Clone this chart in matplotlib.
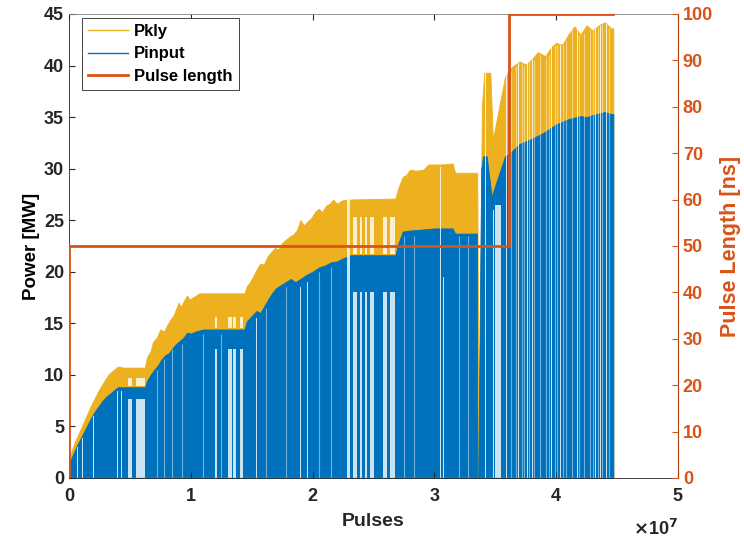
import matplotlib
matplotlib.use('Agg')
import matplotlib.pyplot as plt
from matplotlib.lines import Line2D

plt.rcParams['font.family'] = ['Liberation Sans', 'DejaVu Sans']
plt.rcParams['font.weight'] = 'bold'

# pulses in units of 1e7, power in MW (upper envelope)
pkly_x = [0.00, 0.03, 0.06, 0.09, 0.12, 0.15, 0.18, 0.21, 0.24, 0.27, 0.30, 0.33, 0.36, 0.40,
          0.45, 0.623, 0.64, 0.67, 0.69, 0.72, 0.75, 0.78, 0.81, 0.83, 0.86, 0.88, 0.90, 0.92,
          0.94, 0.97, 0.99, 1.03, 1.07, 1.44, 1.46, 1.48, 1.51, 1.54, 1.57, 1.60, 1.63, 1.66,
          1.69, 1.72, 1.75, 1.78, 1.81, 1.84, 1.87, 1.90, 1.93, 1.96, 1.99, 2.02, 2.05, 2.08,
          2.11, 2.14, 2.17, 2.20, 2.24, 2.28, 2.68, 2.70, 2.74, 2.77, 2.80, 2.85, 2.91, 2.95,
          3.05, 3.15, 3.17, 3.35, 3.352, 3.365, 3.39, 3.41, 3.46, 3.48, 3.58, 3.61, 3.64, 3.70,
          3.75, 3.80, 3.85, 3.91, 3.96, 4.00, 4.05, 4.10, 4.15, 4.20, 4.25, 4.30, 4.35, 4.40,
          4.45, 4.47]
pkly_top = [1.8, 2.9, 3.8, 4.6, 5.4, 6.2, 7.0, 7.7, 8.4, 9.0, 9.6, 10.1, 10.4, 10.8,
            10.7, 10.7, 11.7, 12.3, 13.2, 13.6, 14.4, 14.2, 14.9, 15.3, 15.8, 16.4, 17.0, 16.6,
            17.1, 17.7, 17.3, 17.6, 17.9, 17.9, 18.6, 18.9, 19.5, 20.2, 20.8, 20.7, 21.5, 21.9,
            22.3, 22.2, 22.8, 23.1, 23.4, 23.6, 24.0, 25.0, 24.5, 24.9, 25.2, 25.8, 26.1, 25.8,
            26.4, 26.6, 27.0, 26.6, 26.9, 27.0, 27.1, 28.0, 29.2, 29.4, 29.9, 29.8, 29.9, 30.4,
            30.4, 30.5, 29.6, 29.6, 29.6, 0.0, 36.0, 39.3, 39.3, 32.8, 38.9, 39.5, 39.9, 40.4,
            40.1, 40.6, 41.3, 40.9, 41.8, 42.2, 42.0, 43.0, 43.8, 43.0, 43.9, 43.4, 43.9, 44.2,
            43.6, 43.6]
pin_x = [0.00, 0.03, 0.06, 0.09, 0.12, 0.15, 0.18, 0.21, 0.24, 0.27, 0.30, 0.33, 0.36, 0.40,
         0.623, 0.64, 0.67, 0.70, 0.73, 0.76, 0.79, 0.82, 0.85, 0.88, 0.91, 0.94, 0.97, 1.00,
         1.04, 1.10, 1.44, 1.46, 1.50, 1.54, 1.57, 1.62, 1.66, 1.70, 1.74, 1.78, 1.82, 1.86,
         1.90, 1.95, 2.00, 2.05, 2.10, 2.15, 2.20, 2.25, 2.31, 2.68, 2.70, 2.74, 2.80, 2.90,
         3.00, 3.05, 3.15, 3.17, 3.35, 3.352, 3.36, 3.385, 3.40, 3.43, 3.47, 3.58, 3.62, 3.70,
         3.80, 3.90, 4.00, 4.10, 4.20, 4.25, 4.30, 4.40, 4.45, 4.47]
pin_top = [1.3, 2.2, 3.0, 3.7, 4.4, 5.1, 5.8, 6.4, 6.9, 7.4, 7.8, 8.1, 8.4, 8.8,
           8.8, 9.4, 10.0, 10.5, 10.9, 11.5, 11.9, 12.1, 12.6, 13.0, 13.3, 13.6, 14.1, 14.0,
           14.2, 14.4, 14.4, 15.2, 15.7, 16.2, 16.0, 17.0, 17.8, 18.4, 18.7, 19.0, 19.3, 19.0,
           19.3, 19.7, 20.0, 20.4, 20.6, 20.9, 21.0, 21.3, 21.6, 21.6, 22.6, 23.9, 24.0, 24.1,
           24.2, 24.2, 24.2, 23.7, 23.7, 0.0, 0.0, 30.0, 31.2, 31.2, 27.3, 31.2, 31.5, 32.4,
           32.9, 33.5, 34.3, 34.8, 35.1, 35.0, 35.2, 35.5, 35.3, 35.3]

# dropouts: (start, end, low, high) in the same units
gaps = [
    (0.065, 0.072, 0, 3.0), (0.105, 0.112, 0, 3.9), (0.195, 0.202, 0, 6.0),
    (0.395, 0.402, 0, 8.4), (0.425, 0.432, 0, 8.4),
    (0.487, 0.515, 0, 7.7), (0.487, 0.515, 8.9, 9.7),
    (0.550, 0.623, 0, 7.7), (0.550, 0.623, 8.9, 9.7),
    (1.015, 1.022, 0, 13.5),
    (1.195, 1.215, 0, 12.5), (1.195, 1.215, 14.5, 15.6),
    (1.305, 1.338, 0, 12.5), (1.305, 1.338, 14.5, 15.6),
    (1.347, 1.371, 0, 12.5), (1.347, 1.371, 14.5, 15.6),
    (1.404, 1.429, 0, 12.5), (1.404, 1.429, 14.5, 15.6),
    (1.535, 1.542, 0, 15.5), (1.705, 1.712, 0, 17.5),
    (1.895, 1.902, 0, 18.5), (1.955, 1.962, 0, 19.0),
    (2.280, 2.310, 0, 27.2),
    (2.334, 2.362, 0, 18.0), (2.334, 2.362, 21.7, 25.3),
    (2.389, 2.403, 0, 18.0), (2.389, 2.403, 21.7, 25.3),
    (2.430, 2.444, 0, 18.0), (2.430, 2.444, 21.7, 25.3),
    (2.471, 2.504, 0, 18.0), (2.471, 2.504, 21.7, 25.3),
    (2.581, 2.613, 0, 18.0), (2.581, 2.613, 21.7, 25.3),
    (2.635, 2.677, 0, 18.0), (2.635, 2.677, 21.7, 25.3),
    (2.920, 2.927, 0, 29.7), (3.050, 3.056, 0, 30.2),
    (3.070, 3.077, 0, 19.5), (3.117, 3.124, 0, 19.5),
    (3.415, 3.428, 0, 39.5), (3.484, 3.490, 0, 26.0), (3.500, 3.550, 0, 26.5),
    (3.590, 3.597, 0, 39.5), (3.650, 3.656, 0, 40.0), (3.690, 3.696, 0, 40.3),
    (3.760, 3.766, 0, 40.3), (3.800, 3.806, 0, 40.5), (3.840, 3.846, 0, 41.0),
    (3.890, 3.896, 0, 40.8), (3.960, 3.966, 0, 41.8), (4.030, 4.036, 0, 42.0),
    (4.110, 4.116, 0, 43.0), (4.170, 4.176, 0, 43.5), (4.210, 4.216, 0, 43.0),
    (4.250, 4.256, 0, 43.8), (4.320, 4.327, 0, 43.5), (4.360, 4.366, 0, 43.8),
    (4.410, 4.416, 0, 44.0), (4.440, 4.446, 0, 43.5),
]

# fainter partial dropouts (x position, top in MW)
faint_x = [0.72, 0.78, 0.85, 0.93, 1.10, 1.25, 1.62, 1.78, 2.05, 2.15, 2.75, 2.83, 3.20,
           3.28, 3.63, 3.67, 3.72, 3.74, 3.78, 3.82, 3.87, 3.92, 3.94, 3.99, 4.01, 4.06,
           4.08, 4.13, 4.19, 4.23, 4.28, 4.30, 4.34, 4.38, 4.43]
faint_top = [10.5, 11.5, 12.5, 13.0, 14.0, 14.0, 16.5, 18.5, 20.0, 20.5, 23.5, 23.5, 23.5,
             23.5, 39.5, 40.0, 40.2, 40.0, 40.3, 40.5, 41.0, 40.8, 41.0, 42.0, 42.0, 42.0,
             42.5, 43.5, 43.0, 43.2, 43.5, 43.4, 43.6, 44.0, 43.6]

pulse_x = [0, 0, 3.616, 3.616, 4.47]
pulse_len = [0, 50, 50, 100, 100]

c_kly = '#EDB120'
c_in = '#0072BD'
c_pl = '#D95319'
c_ax = '#262626'

fig = plt.figure(figsize=(7.44, 5.37), dpi=100)
ax = fig.add_axes([0.0927, 0.110, 0.8185, 0.864])

ax.fill_between(pkly_x, 0, pkly_top, color=c_kly, lw=0.6, edgecolor=c_kly)
ax.fill_between(pin_x, 0, pin_top, color=c_in, lw=0.6, edgecolor=c_in)
for g in gaps:
    ax.bar(g[0], g[3] - g[2], width=g[1] - g[0], bottom=g[2], align='edge',
           color='white', alpha=0.8, lw=0)
ax.vlines(faint_x, 0, faint_top, colors='white', alpha=0.45, lw=0.8)
ax.plot([0, 4.47], [0, 0], color='#4DA6D9', lw=1)

ax.set_xlim(0, 5)
ax.set_ylim(0, 45)
ax.set_xticks(range(6))
ax.set_yticks(range(0, 46, 5))
ax.tick_params(direction='in', length=4, labelsize=13, colors=c_ax, top=True)
ax.tick_params(axis='x', pad=7)
for s in ['left', 'bottom', 'top']:
    ax.spines[s].set_color(c_ax)
    ax.spines[s].set_linewidth(0.6)
ax.spines['top'].set_color('#808080')
ax.set_xlabel('Pulses', fontsize=14, color=c_ax, fontweight='bold', labelpad=6)
ax.set_ylabel('Power [MW]', fontsize=13.5, color='black', fontweight='bold', labelpad=3)
ax.text(1.0, -0.122, '$\\times$10$^{7}$', transform=ax.transAxes, fontsize=13,
        ha='right', va='baseline', color=c_ax)

ax2 = ax.twinx()
ax2.plot(pulse_x, pulse_len, color=c_pl, lw=2)
ax2.set_ylim(0, 100)
ax2.set_yticks(range(0, 101, 10))
ax2.tick_params(direction='in', length=4, labelsize=13, colors=c_pl)
ax2.spines['right'].set_color(c_pl)
ax2.spines['right'].set_linewidth(0.6)
for s in ['left', 'bottom', 'top']:
    ax2.spines[s].set_visible(False)
ax2.set_ylabel('Pulse Length [ns]', fontsize=15.5, color=c_pl, fontweight='bold', labelpad=5)

handles = [Line2D([], [], color=c_kly, lw=1), Line2D([], [], color=c_in, lw=1),
           Line2D([], [], color=c_pl, lw=2)]
leg = ax2.legend(handles, ['Pkly', 'Pinput', 'Pulse length'], loc='upper left',
                 bbox_to_anchor=(0.021, 0.991), borderaxespad=0, fontsize=12,
                 fancybox=False, framealpha=1, edgecolor=c_ax, handlelength=2.4,
                 borderpad=0.35, labelspacing=0.45, handletextpad=0.4)
leg.get_frame().set_linewidth(0.6)

fig.savefig('out.png', dpi=100)
